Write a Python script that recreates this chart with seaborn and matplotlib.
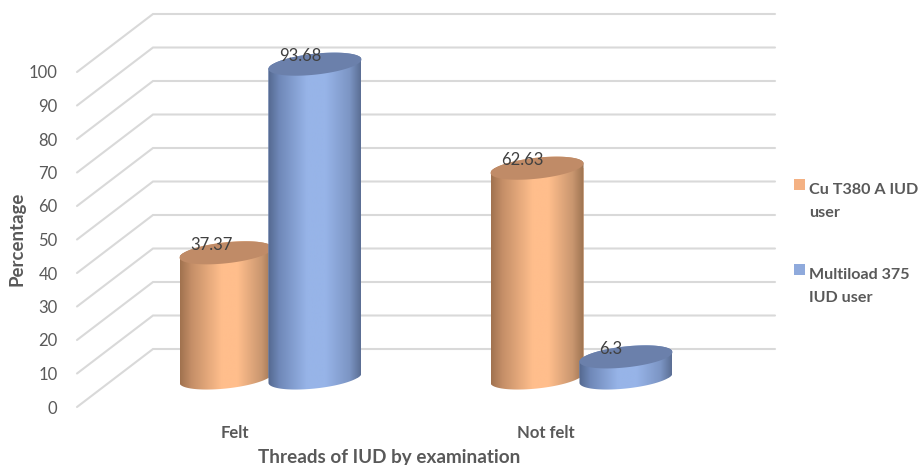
import numpy as np
import pandas as pd
import seaborn as sns
import matplotlib
matplotlib.use("Agg")
import matplotlib.pyplot as plt
from matplotlib.colors import LinearSegmentedColormap
from matplotlib.patches import Polygon, Patch
from matplotlib.path import Path
from matplotlib.transforms import IdentityTransform, Affine2D

# Chart values
categories = ["Felt", "Not felt"]
series_names = ["Cu T380 A IUD\nuser", "Multiload 375\nIUD user"]
cu_t380_values = [37.37, 62.63]
multiload_values = [93.68, 6.3]
y_ticks = list(range(0, 101, 10))

# Palette
swatch_colors = ["#F4B183", "#8FAADC"]
cap_colors = ["#C08B67", "#6B80AB"]
shade_stops = [
    [(0.0, "#A0724F"), (0.12, "#C48E67"), (0.45, "#FFBE8C"), (0.62, "#FFBE8C"), (0.88, "#C9966F"), (1.0, "#9C7250")],
    [(0.0, "#54688F"), (0.12, "#6F88B8"), (0.42, "#97B4E8"), (0.62, "#97B4E8"), (0.88, "#7C95C4"), (1.0, "#5B6E94")],
]
grid_color = "#D9D9D9"
text_color = "#595959"
label_color = "#404040"

W, H = 919, 465
sns.set_theme(style="white")
plt.rcParams["font.family"] = ["Lato", "DejaVu Sans"]

fig = plt.figure(figsize=(W / 100, H / 100), dpi=100, facecolor="white")
ax = fig.add_axes([77 / W, 1 - 407 / H, 622 / W, 335 / H])

table = pd.DataFrame({
    "category": categories * 2,
    "series": [series_names[0]] * 2 + [series_names[1]] * 2,
    "value": cu_t380_values + multiload_values,
})
sns.barplot(data=table, x="category", y="value", hue="series", order=categories,
            hue_order=series_names, palette=swatch_colors, width=0.572, gap=-0.0455,
            saturation=1, legend=False, ax=ax)
ax.set_xlim(-0.5, 1.5)
ax.set_ylim(0, 100)

# Floor depth of the 3D box, in pixels
DEPTH_X, DEPTH_Y = 76, 58
# Cylinders stand halfway back on the floor
BAR_DX, BAR_DY = 38, 29
# Ellipse shape: half-height and tilt rise across the half-width
CAP_MINOR, CAP_RISE = 10.5, 4.8

to_px = ax.transData.transform

# Walls: diagonal floor-side lines plus back-wall horizontals
for tick in y_ticks:
    (x0, y0) = to_px((-0.5, tick))
    (x1, _) = to_px((1.5, tick))
    ax.plot([x0, x0 + DEPTH_X, x1 + DEPTH_X], [y0, y0 + DEPTH_Y, y0 + DEPTH_Y],
            color=grid_color, lw=1.5, transform=IdentityTransform(), clip_on=False,
            zorder=1, solid_joinstyle="miter")


def ellipse_arc(cx, cy, half_w, start, stop, n=60):
    t = np.linspace(start, stop, n)
    return np.column_stack([cx + half_w * np.cos(t),
                            cy + CAP_RISE * np.cos(t) + CAP_MINOR * np.sin(t)])


bars = list(ax.patches)
n_cat = len(categories)
order = [(c, s) for c in range(n_cat) for s in range(2)]
shift = Affine2D().translate(BAR_DX, BAR_DY)
z = 3
values = [cu_t380_values, multiload_values]
for c, s in order:
    bar = bars[s * n_cat + c]
    x_left, x_right = bar.get_x(), bar.get_x() + bar.get_width()
    top_val = values[s][c]
    (px0, py0) = to_px((x_left, 0)) + (BAR_DX, BAR_DY)
    (px1, py1) = to_px((x_right, top_val)) + (BAR_DX, BAR_DY)
    cx, half_w = (px0 + px1) / 2, (px1 - px0) / 2

    outline = np.vstack([ellipse_arc(cx, py0, half_w, np.pi, 2 * np.pi),
                         ellipse_arc(cx, py1, half_w, 0, np.pi)])
    body_path = Path(np.vstack([outline, outline[0]]), closed=True)

    bar.set_transform(ax.transData + shift)
    bar.set_clip_box(fig.bbox)
    bar.set_clip_path(body_path, IdentityTransform())
    bar.set_zorder(z)
    bar.set_linewidth(0)

    cmap = LinearSegmentedColormap.from_list(f"shade{s}", shade_stops[s])
    im = ax.imshow(np.linspace(0, 1, 256)[None, :], cmap=cmap, aspect="auto",
                   extent=(px0, px1, py0 - 15, py1 + 15), transform=IdentityTransform(),
                   interpolation="bilinear", zorder=z + 0.1)
    im.set_clip_box(fig.bbox)
    im.set_clip_path(body_path, IdentityTransform())

    cap = ellipse_arc(cx, py1, half_w, 0, 2 * np.pi, 120)
    ax.add_patch(Polygon(cap, closed=True, facecolor=cap_colors[s], edgecolor="none",
                         transform=IdentityTransform(), clip_on=False, zorder=z + 0.2))
    ax.text(cx - 15, py1 + 8, f"{top_val:g}", color=label_color, fontsize=12,
            ha="center", va="center", transform=IdentityTransform(), zorder=20, clip_on=False)
    z += 1

ax.set_xlim(-0.5, 1.5)
ax.set_ylim(0, 100)
sns.despine(ax=ax, left=True, bottom=True)
ax.patch.set_visible(False)
ax.grid(False)

ax.set_yticks(y_ticks)
ax.set_xticks(range(n_cat), categories)
ax.tick_params(axis="y", length=0, pad=14, labelsize=12, labelcolor=text_color)
ax.tick_params(axis="x", length=0, pad=13, labelsize=12, labelcolor=text_color)
for lab in ax.get_xticklabels():
    lab.set_fontweight("bold")
    lab.set_transform(lab.get_transform() + Affine2D().translate(2, 0))

ax.set_xlabel("")
ax.set_ylabel("")
fig.text(389 / W, 1 - 463 / H, "Threads of IUD by examination", color=text_color,
         fontsize=13.6, fontweight="bold", ha="center", va="baseline")
fig.text(17 / W, 1 - 238.5 / H, "Percentage", color=text_color, fontsize=13.4,
         fontweight="bold", rotation=90, ha="center", va="center")

# Legend swatches sit beside the first line of each two-line label
handles = [Patch(facecolor=col, edgecolor="none") for col in swatch_colors]
legend = ax.legend(handles, series_names, loc="upper left", bbox_to_anchor=(794 / W, 1 - 183 / H),
                   bbox_transform=fig.transFigure, frameon=False, handlelength=0.67,
                   handleheight=0.67, handletextpad=0.25, labelspacing=2.95, borderpad=0,
                   borderaxespad=0, prop={"size": 11.6, "weight": "bold"}, labelcolor=text_color)
for text, handle in zip(legend.get_texts(), legend.legend_handles):
    text.set_linespacing(1.85)
    handle.set_y(handle.get_y() + 12)

fig.savefig("out.png", dpi=100, facecolor="white")
